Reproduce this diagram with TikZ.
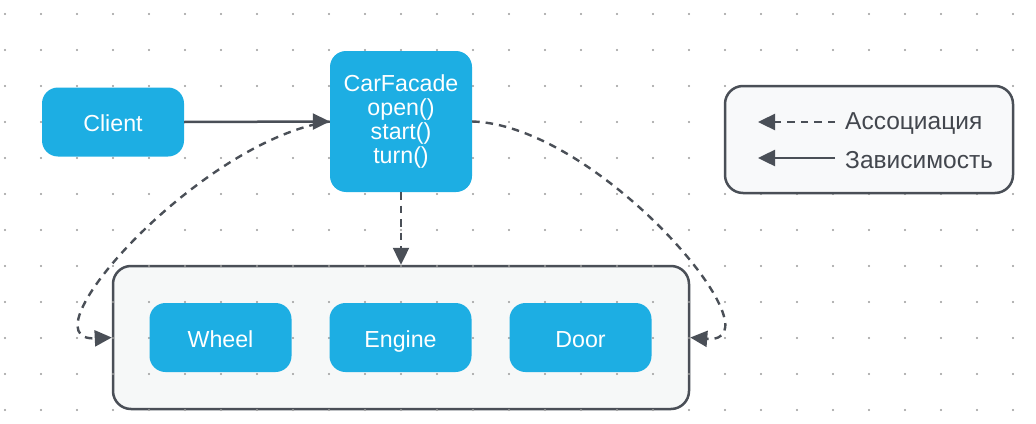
\documentclass[tikz,border=0pt]{standalone}
\usepackage{fontspec}
\setmainfont{Liberation Sans}
\usetikzlibrary{arrows.meta}
\definecolor{cblue}{HTML}{1DAEE3}
\definecolor{cdark}{HTML}{4A4F57}
\definecolor{cgrp}{HTML}{F6F8F8}
\definecolor{cleg}{HTML}{F8F9FA}
\definecolor{cdot}{HTML}{9A9A9A}
\newcommand{\complabel}[1]{\smash{\raisebox{-9.5pt}{#1}}}
\tikzset{
  comp/.style={fill=cblue, rounded corners=16pt, text=white, font=\fontsize{23.2}{24}\selectfont, align=center, inner sep=0pt, minimum width=142pt, minimum height=69pt},
  grpbox/.style={fill=cgrp, draw=cdark, line width=2.5pt, rounded corners=18pt, inner sep=0pt, minimum width=576pt, minimum height=143pt},
  legbox/.style={fill=cleg, draw=cdark, line width=2.5pt, rounded corners=18pt, inner sep=0pt, minimum width=288pt, minimum height=107pt},
  tip/.style={-{Triangle[length=17pt,width=16pt]}},
  dep/.style={tip, draw=cdark, line width=2.5pt},
  assoc/.style={tip, draw=cdark, line width=2.4pt, dash pattern=on 7.5pt off 6pt},
  legtext/.style={anchor=west, text=cdark!90!black, font=\fontsize{24.5}{26}\selectfont, inner sep=0pt},
}
\begin{document}
\begin{tikzpicture}[x=1pt,y=-1pt]
\useasboundingbox (0,0) rectangle (1036,423);
% group box
\node[grpbox] (grp) at (401,337.5) {};
% dot grid
\foreach \i in {0,...,28}{
  \foreach \j in {0,...,11}{
    \fill[cdot] ({5+36*\i},{14+36*\j}) circle (1.1pt);
  }
}
% components
\node[comp] (client) at (113,122) {\complabel{Client}};
\node[comp, minimum height=141pt] (cf) at (401,121.5) {CarFacade\\open()\\start()\\turn()};
\node[comp] (wheel) at (220.5,337.5) {\complabel{Wheel}};
\node[comp] (engine) at (400.5,337.5) {\complabel{Engine}};
\node[comp] (door) at (580.5,337.5) {\complabel{Door}};
% connectors
\draw[dep] (client.east) -- (cf.west);
\draw[assoc] (cf.south) -- (grp.north);
\draw[assoc] (cf.west) .. controls (200,140) and (20,342) .. (grp.west);
\draw[assoc] (cf.east) .. controls (600,125) and (785,345) .. (grp.east);
% legend
\node[legbox] (leg) at (869,139.5) {};
\coordinate (a1) at (835,122);
\coordinate (a2) at (758,122);
\coordinate (b1) at (835,158);
\coordinate (b2) at (758,158);
\draw[assoc] (a1) -- (a2);
\draw[dep] (b1) -- (b2);
\node[legtext] (t1) at (845,124) {Ассоциация};
\node[legtext] (t2) at (845,160) {Зависимость};
\end{tikzpicture}
\end{document}
